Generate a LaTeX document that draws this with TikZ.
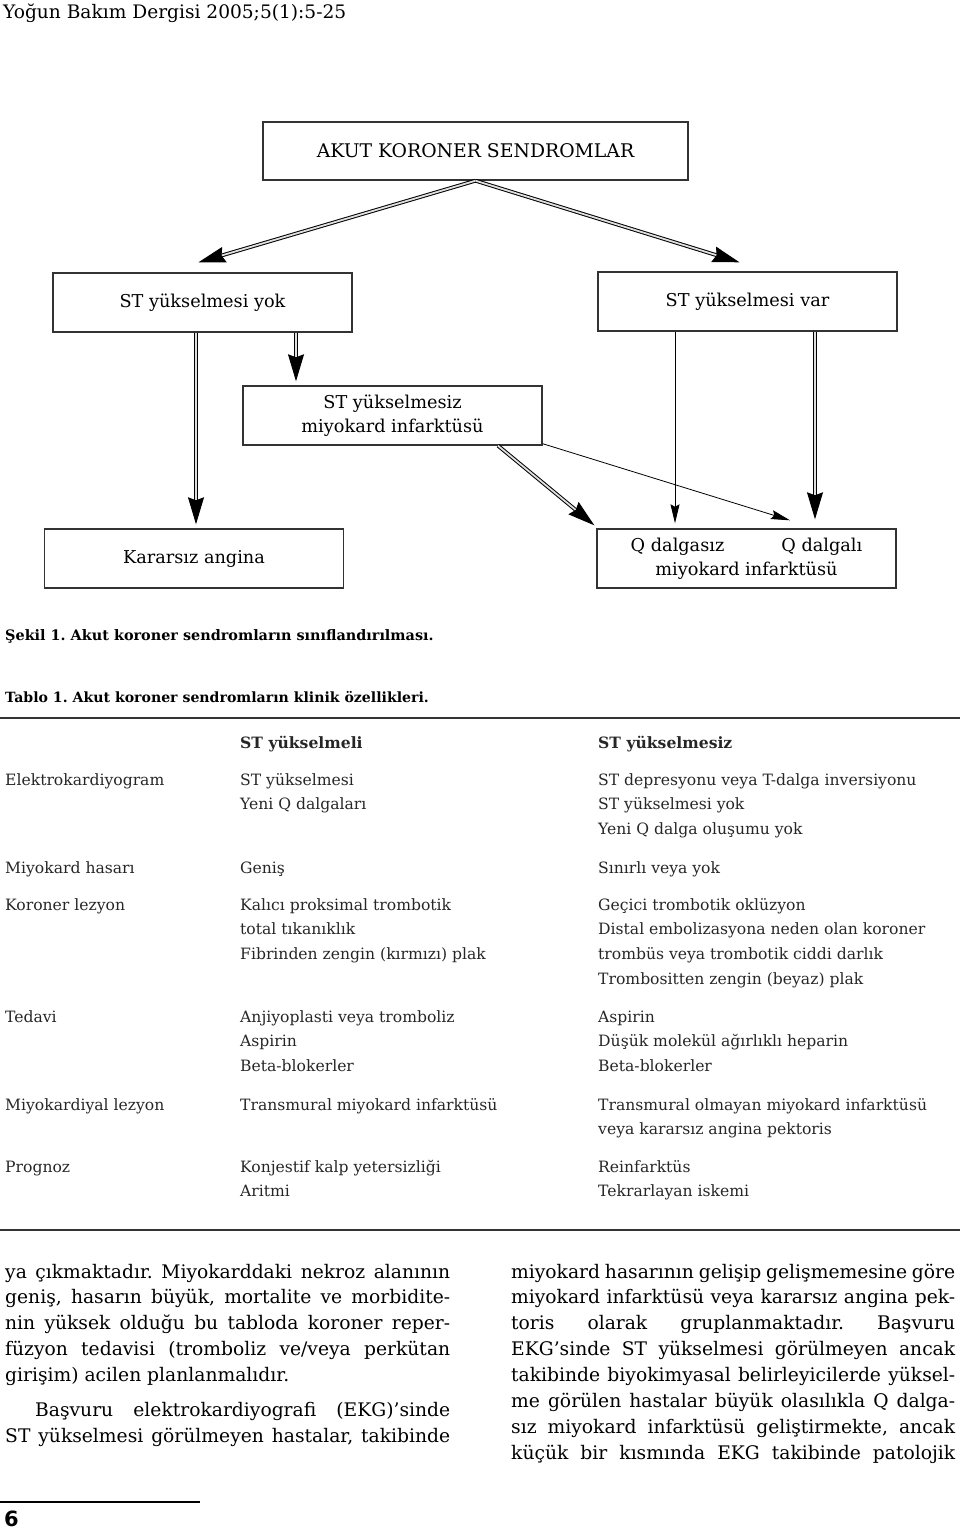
\documentclass[tikz,border=0pt]{standalone}
\usepackage{fontspec}
\setmainfont{DejaVu Serif}
\setsansfont{DejaVu Sans}
\usetikzlibrary{arrows.meta}
\frenchspacing
\newcommand{\jl}[2][444pt]{\makebox[#1][s]{#2}}
\newcommand{\zeilen}[1]{\begin{tabular}[t]{@{}l@{}}#1\end{tabular}}

\begin{document}
\begin{tikzpicture}[x=1pt,y=-1pt]
	\tikzstyle{box}=[draw=black!80,line width=1.4pt,minimum width=299pt,minimum height=59pt,inner sep=0pt,align=center,font=\fontsize{17.7}{24}\selectfont]
	\tikzstyle{dbl}=[line width=1pt,double=gray!25,double distance=1.8pt,-{Stealth[length=27pt,width=16pt,inset=3pt]}]
	\tikzstyle{pointer}=[line width=0.8pt,-{Stealth[length=19pt,width=9pt,inset=2.5pt]}]
	\tikzstyle{cell}=[anchor=base west,inner sep=0pt,text=black!85,font=\fontsize{15.6}{24.8}\selectfont]
	\tikzstyle{para}=[anchor=base west,inner sep=0pt,font=\fontsize{18.7}{25.9}\selectfont]
	\useasboundingbox (0,0) rectangle (960,1528);
	\node[anchor=base west,inner sep=0pt,font=\fontsize{18.6}{20}\selectfont](kopf) at (3,19) {Yoğun Bakım Dergisi 2005;5(1):5-25};
	% flow chart
	\node[box,minimum width=425pt,minimum height=58pt,font=\fontsize{18.8}{24}\selectfont](akut) at (475.5,151) {AKUT KORONER SENDROMLAR};
	\node[box](yok) at (202.5,302.5) {ST yükselmesi yok};
	\node[box](var) at (747.5,301.5) {ST yükselmesi var};
	\node[box](nstemi) at (392.5,415.5) {ST yükselmesiz\\miyokard infarktüsü};
	\node[box](kararsiz) at (194,558.5) {Kararsız angina};
	\node[box](qmi) at (746.5,558.5) {Q dalgasız\hspace{57pt}Q dalgalı\\miyokard infarktüsü};
	\draw[dbl] (akut.south) -- ([xshift=-4pt,yshift=10pt]yok.north);
	\draw[dbl] (akut.south) -- ([xshift=-8pt,yshift=9pt]var.north);
	\draw[dbl] ([xshift=-6.5pt]yok.south) -- ([xshift=2pt,yshift=4pt]kararsiz.north);
	\draw[dbl] ([xshift=93.5pt]yok.south) -- ([xshift=-96.5pt,yshift=4pt]nstemi.north);
	\draw[dbl] ([xshift=105.5pt]nstemi.south) -- ([xshift=-2pt,yshift=3pt]qmi.north west);
	\draw[pointer] ([yshift=2pt]nstemi.south east) -- ([xshift=43.5pt,yshift=8pt]qmi.north);
	\draw[pointer] ([xshift=-72.5pt]var.south) -- ([xshift=-71.5pt,yshift=5pt]qmi.north);
	\draw[dbl] ([xshift=67.5pt]var.south) -- ([xshift=68.5pt,yshift=9pt]qmi.north);
	% captions
	\node[anchor=base west,inner sep=0pt,font=\fontsize{14.4}{16}\bfseries](sekil) at (5,640) {Şekil 1. Akut koroner sendromların sınıflandırılması.};
	\node[anchor=base west,inner sep=0pt,font=\fontsize{14.1}{16}\bfseries](tablo) at (5,702) {Tablo 1. Akut koroner sendromların klinik özellikleri.};
	% table
	\draw[line width=1.3pt,black!80] (0,718) -- (960,718);
	\draw[line width=1.3pt,black!80] (0,1230) -- (960,1230);
	\node[cell,font=\fontsize{15.6}{24.8}\bfseries](h1) at (240,748) {ST yükselmeli};
	\node[cell,font=\fontsize{15.6}{24.8}\bfseries](h2) at (598,748) {ST yükselmesiz};
	\node[cell](r1) at (5,785) {Elektrokardiyogram};
	\node[cell](r1a) at (240,785) {\zeilen{ST yükselmesi\\Yeni Q dalgaları}};
	\node[cell](r1b) at (598,785) {\zeilen{ST depresyonu veya T-dalga inversiyonu\\ST yükselmesi yok\\Yeni Q dalga oluşumu yok}};
	\node[cell](r2) at (5,873) {Miyokard hasarı};
	\node[cell](r2a) at (240,873) {Geniş};
	\node[cell](r2b) at (598,873) {Sınırlı veya yok};
	\node[cell](r3) at (5,910) {Koroner lezyon};
	\node[cell](r3a) at (240,910) {\zeilen{Kalıcı proksimal trombotik\\total tıkanıklık\\Fibrinden zengin (kırmızı) plak}};
	\node[cell](r3b) at (598,910) {\zeilen{Geçici trombotik oklüzyon\\Distal embolizasyona neden olan koroner\\trombüs veya trombotik ciddi darlık\\Trombositten zengin (beyaz) plak}};
	\node[cell](r4) at (5,1022) {Tedavi};
	\node[cell](r4a) at (240,1022) {\zeilen{Anjiyoplasti veya tromboliz\\Aspirin\\Beta-blokerler}};
	\node[cell](r4b) at (598,1022) {\zeilen{Aspirin\\Düşük molekül ağırlıklı heparin\\Beta-blokerler}};
	\node[cell](r5) at (5,1110) {Miyokardiyal lezyon};
	\node[cell](r5a) at (240,1110) {Transmural miyokard infarktüsü};
	\node[cell](r5b) at (598,1110) {\zeilen{Transmural olmayan miyokard infarktüsü\\veya kararsız angina pektoris}};
	\node[cell](r6) at (5,1172) {Prognoz};
	\node[cell](r6a) at (240,1172) {\zeilen{Konjestif kalp yetersizliği\\Aritmi}};
	\node[cell](r6b) at (598,1172) {\zeilen{Reinfarktüs\\Tekrarlayan iskemi}};
	% running text
	\node[para](sol) at (5,1278) {\zeilen{\jl[445pt]{ya çıkmaktadır. Miyokarddaki nekroz alanının}\\
		\jl[445pt]{geniş, hasarın büyük, mortalite ve morbidite-}\\
		\jl[445pt]{nin yüksek olduğu bu tabloda koroner reper-}\\
		\jl[445pt]{füzyon tedavisi (tromboliz ve/veya perkütan}\\
		girişim) acilen planlanmalıdır.\\[9pt]
		\hspace*{30pt}\jl[415pt]{Başvuru elektrokardiyografi (EKG)’sinde}\\
		\jl[445pt]{ST yükselmesi görülmeyen hastalar, takibinde}}};
	\node[para](sag) at (511,1278) {\zeilen{\jl{miyokard hasarının gelişip gelişmemesine göre}\\
		\jl{miyokard infarktüsü veya kararsız angina pek-}\\
		\jl{toris olarak gruplanmaktadır. Başvuru}\\
		\jl{EKG’sinde ST yükselmesi görülmeyen ancak}\\
		\jl{takibinde biyokimyasal belirleyicilerde yüksel-}\\
		\jl{me görülen hastalar büyük olasılıkla Q dalga-}\\
		\jl{sız miyokard infarktüsü geliştirmekte, ancak}\\
		\jl{küçük bir kısmında EKG takibinde patolojik}}};
	% page foot
	\draw[line width=2pt] (0,1502) -- (200,1502);
	\node[anchor=base west,inner sep=0pt,font=\fontsize{21}{24}\sffamily\bfseries](sayfa) at (4,1526) {6};
\end{tikzpicture}
\end{document}
